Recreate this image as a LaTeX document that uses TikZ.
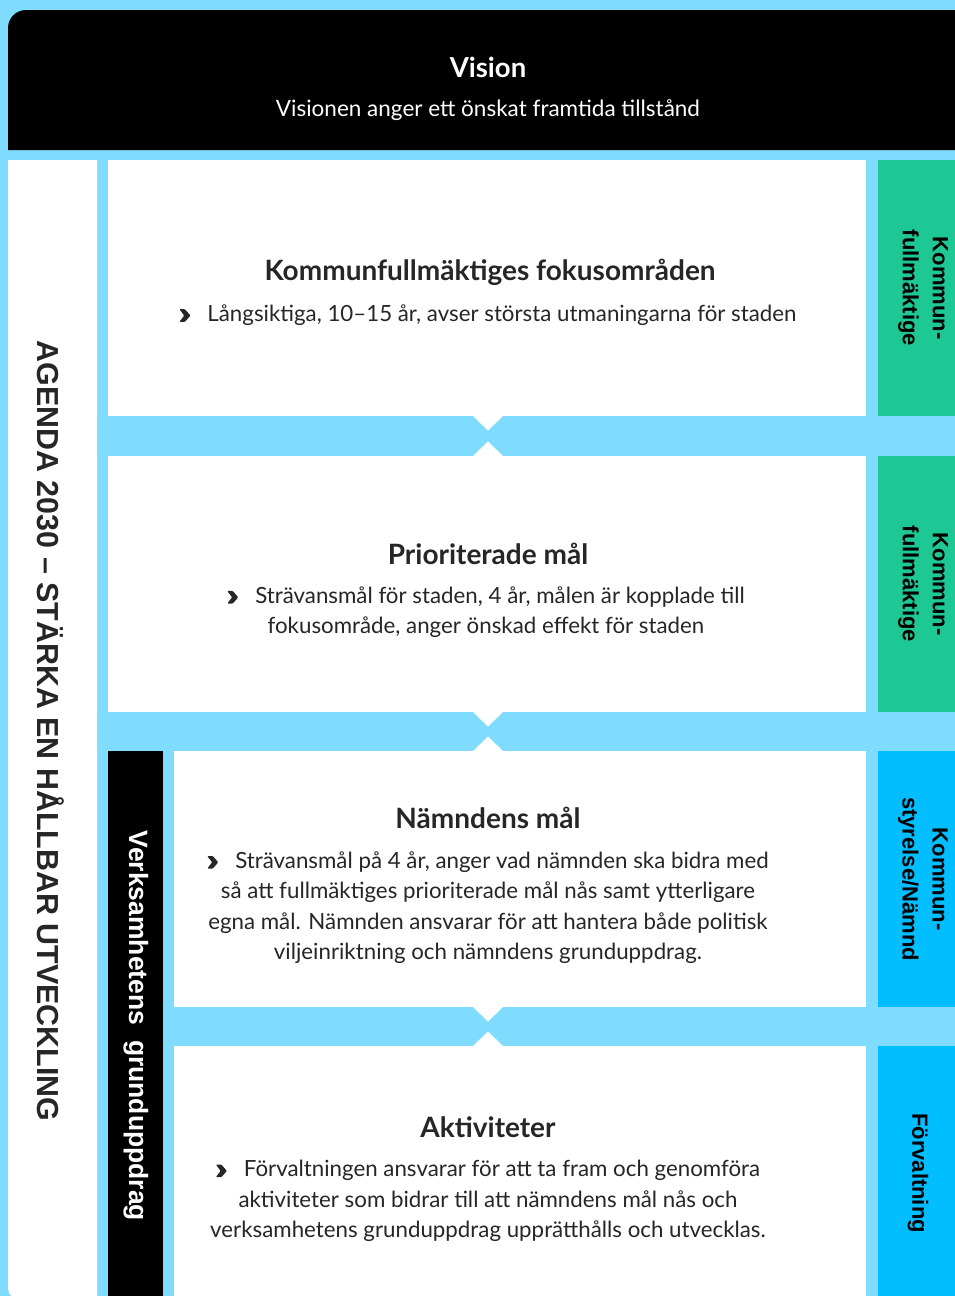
\documentclass[tikz,border=0pt]{standalone}
\usepackage{fontspec}
\setmainfont{Lato}
\newfontfamily\arialfont{Liberation Sans}
\usetikzlibrary{positioning}

\definecolor{ljusbla}{RGB}{128,220,255}
\definecolor{gron}{RGB}{29,200,149}
\definecolor{bla}{RGB}{0,190,255}
\definecolor{morkgra}{RGB}{38,38,38}

\newcommand{\pil}{\tikz[baseline=0pt, x=1pt, y=1pt]
    \fill[morkgra, rounded corners=0.8pt] (0,-0.5) -- (5.5,-0.5) -- (11,5.8) -- (5.5,12.1) -- (0,12.1) -- (4.8,5.8) -- cycle;\hspace{17pt}}

\tikzstyle{ruta} = [fill=white, inner sep=0pt, anchor=north west, minimum width=758pt, minimum height=256pt]
\tikzstyle{smalruta} = [ruta, minimum width=692pt]
\tikzstyle{flik} = [inner sep=0pt, anchor=north west, minimum width=80pt, minimum height=256pt]
\tikzstyle{rubrik} = [text=morkgra, font=\bfseries\fontsize{28}{32}\selectfont]
\tikzstyle{brodtext} = [text=morkgra, align=center, font=\fontsize{22.3}{30.5}\selectfont]
\tikzstyle{fliktext} = [rotate=-90, align=center, font=\arialfont\bfseries\fontsize{22}{30}\selectfont]

\begin{document}
\begin{tikzpicture}[x=1pt, y=-1pt]
\useasboundingbox (0,0) rectangle (955,1296);
\clip (0,0) rectangle (955,1296);
\fill[ljusbla] (0,0) rectangle (955,1296);

% vision
\fill[black] (960,150) -- (8,150) [rounded corners=18pt] -- (8,10) [sharp corners] -- (960,10) -- cycle;
\node[text=white, font=\bfseries\fontsize{27.5}{30}\selectfont] (vision) at (488,67) {Vision};
\node[text=white, font=\fontsize{22.5}{26}\selectfont] (visiontext) at (488,110) {Visionen anger ett önskat framtida tillstånd};

% agenda 2030
\fill[white] (97,160) -- (8,160) [rounded corners=12pt] -- (8,1300) [sharp corners] -- (97,1300) -- cycle;
\node[rotate=-90, text=morkgra, font=\arialfont\bfseries\fontsize{30.4}{30}\selectfont] (agenda) at (51,731)
    {AGENDA 2030 – STÄRKA EN HÅLLBAR UTVECKLING};

% rutor
\node[ruta] (k1) at (108,160) {};
\node[ruta] (k2) at (108,456) {};
\node[smalruta] (k3) at (174,751) {};
\node[smalruta, minimum height=260pt] (k4) at (174,1046) {};

% verksamhetens grunduppdrag
\node[fill=black, inner sep=0pt, anchor=north west, minimum width=55pt, minimum height=560pt] (grund) at (108,751) {};
\node[rotate=-90, text=white, font=\arialfont\bfseries\fontsize{26.5}{30}\selectfont] (grundtext) at (136,1026)
    {Verksamhetens\ \ grunduppdrag};

% flikar
\node[flik, fill=gron] (f1) at (878,160) {};
\node[flik, fill=gron] (f2) at (878,456) {};
\node[flik, fill=bla] (f3) at (878,751) {};
\node[flik, fill=bla, minimum height=260pt] (f4) at (878,1046) {};
\node[fliktext] (f1text) at (923,288) {Kommun-\\fullmäktige};
\node[fliktext] (f2text) at (923,584) {Kommun-\\fullmäktige};
\node[fliktext] (f3text) at (923,879) {Kommun-\\styrelse/Nämnd};
\node[fliktext] (f4text) at (918,1173) {Förvaltning};

% texter
\node[rubrik] (t1) at (490,272) {Kommunfullmäktiges fokusområden};
\node[brodtext] (b1) at (488,315) {\pil Långsiktiga, 10–15 år, avser största utmaningarna för staden};

\node[rubrik] (t2) at (488,554) {Prioriterade mål};
\node[brodtext] (b2) at (486,612) {\pil Strävansmål för staden, 4 år, målen är kopplade till\\
    fokusområde, anger önskad effekt för staden};

\node[rubrik] (t3) at (488,818) {Nämndens mål};
\node[brodtext] (b3) at (488,907.5) {\pil Strävansmål på 4 år, anger vad nämnden ska bidra med\\
    så att fullmäktiges prioriterade mål nås samt ytterligare\\
    egna mål. Nämnden ansvarar för att hantera både politisk\\
    viljeinriktning och nämndens grunduppdrag.};

\node[rubrik] (t4) at (488,1127) {Aktiviteter};
\node[brodtext] (b4) at (488,1201) {\pil Förvaltningen ansvarar för att ta fram och genomföra\\
    aktiviteter som bidrar till att nämndens mål nås och\\
    verksamhetens grunduppdrag upprätthålls och utvecklas.};

% skarvar
\coordinate (n1) at (488,416);
\coordinate (n2) at (488,712);
\coordinate (n3) at (488,1007);
\foreach \n/\m in {n1/k2, n2/k3, n3/k4} {
    \fill[white] ([xshift=-15pt]\n) -- ([yshift=-14.5pt]\n) -- ([xshift=15pt]\n) -- cycle;
    \coordinate (m) at (\n |- \m.north);
    \fill[white] ([xshift=-15pt]m) -- ([yshift=14.5pt]m) -- ([xshift=15pt]m) -- cycle;
}
\end{tikzpicture}
\end{document}
